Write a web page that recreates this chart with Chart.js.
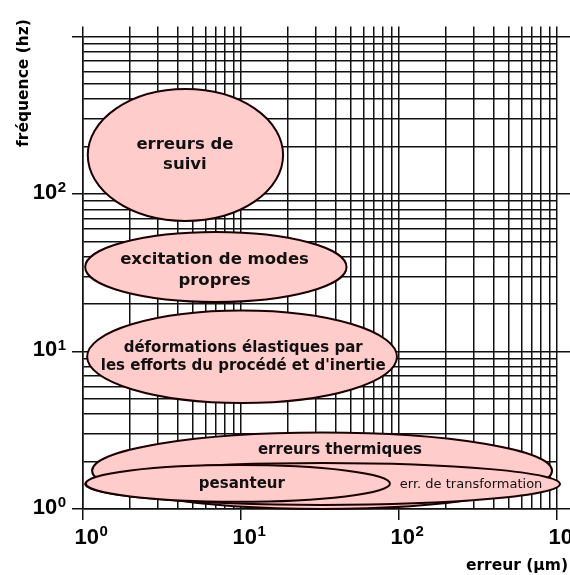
<!DOCTYPE html>
<html>
<head>
<meta charset="utf-8">
<title>fréquence / erreur</title>
<script src="https://cdn.jsdelivr.net/npm/chart.js@4.4.0/dist/chart.umd.min.js"></script>
<style>
  html, body { margin: 0; padding: 0; background: #fff; }
</style>
</head>
<body>
<canvas id="myChart" width="570" height="575"></canvas>
<script>
// zones : étendue en erreur (µm) et en fréquence (Hz)
var zoneLabels = [
  ['erreurs de', 'suivi'],
  ['excitation de modes', 'propres'],
  ['déformations élastiques par', "les efforts du procédé et d'inertie"],
  ['erreurs thermiques'],
  ['err. de transformation'],
  ['pesanteur']
];
var errMin = [1.08, 1.04, 1.07, 1.15, 1.04, 1.05];
var errMax = [18.6, 46.9, 97.8, 937, 1052, 88.3];
var freqMin = [67.4, 20.6, 4.71, 1.0, 1.06, 1.11];
var freqMax = [464, 57.4, 18.2, 3.06, 1.96, 1.90];
// où placer le texte de chaque zone
var labelErr = [4.45, 6.85, 10.4, 42.6, 288, 10.2];
var labelFreq = [177, 32.9, 9.23, 2.37, 1.42, 1.44];

// graduations (grille log) et étiquettes des décades
var gridValues = [1, 2, 3, 4, 5, 6, 7, 8, 9,
  10, 20, 30, 40, 50, 60, 70, 80, 90,
  100, 200, 300, 400, 500, 600, 700, 800, 900, 1000];
var xDecades = [1, 10, 100, 1000];
var xExponents = ['0', '1', '2', '3'];
var yDecades = [1, 10, 100];
var yExponents = ['0', '1', '2'];

// styles du texte des zones
var zoneFontSize = [16.5, 16.5, 15, 15, 13, 15];
var zoneBold = [true, true, true, true, false, true];
var zoneLineGap = [20, 21, 18, 18, 18, 18];

function isDecade(v) {
  return xDecades.indexOf(v) >= 0;
}
function setTicks(scale) {
  scale.ticks = gridValues.map(function (v) { return { value: v, major: isDecade(v) }; });
}
function majorTick(ctx) {
  return (ctx.tick && isDecade(ctx.tick.value)) ? '#111' : 'rgba(0,0,0,0)';
}

var zonesPlugin = {
  id: 'zones',
  afterDatasetsDraw: function (chart) {
    var ctx = chart.ctx;
    var sx = chart.scales.x, sy = chart.scales.y;
    for (var i = 0; i < zoneLabels.length; i++) {
      var x1 = sx.getPixelForValue(errMin[i]), x2 = sx.getPixelForValue(errMax[i]);
      var y1 = sy.getPixelForValue(freqMax[i]), y2 = sy.getPixelForValue(freqMin[i]);
      ctx.save();
      ctx.beginPath();
      ctx.ellipse((x1 + x2) / 2, (y1 + y2) / 2, (x2 - x1) / 2, (y2 - y1) / 2, 0, 0, 2 * Math.PI);
      ctx.fillStyle = '#ffcccc';
      ctx.fill();
      ctx.lineWidth = 2;
      ctx.strokeStyle = '#1a0000';
      ctx.stroke();

      var lines = zoneLabels[i];
      var tx = sx.getPixelForValue(labelErr[i]);
      var ty = sy.getPixelForValue(labelFreq[i]);
      ctx.font = (zoneBold[i] ? 'bold ' : '') + zoneFontSize[i] + 'px "DejaVu Sans"';
      ctx.fillStyle = '#111';
      ctx.textAlign = 'center';
      ctx.textBaseline = 'middle';
      for (var j = 0; j < lines.length; j++) {
        ctx.fillText(lines[j], tx, ty + (j - (lines.length - 1) / 2) * zoneLineGap[i]);
      }
      ctx.restore();
    }
  }
};

// étiquettes 10^n avec exposant, placées sur les graduations des échelles
var decadeLabelsPlugin = {
  id: 'decadeLabels',
  afterDraw: function (chart) {
    var ctx = chart.ctx;
    var sx = chart.scales.x, sy = chart.scales.y;
    var base = 'bold 22px "Liberation Sans"', sup = 'bold 15px "Liberation Sans"';
    ctx.save();
    ctx.fillStyle = '#000';
    ctx.textBaseline = 'alphabetic';
    ctx.textAlign = 'left';
    var i, p, w;
    for (i = 0; i < xDecades.length; i++) {
      p = sx.getPixelForValue(xDecades[i]) - 8;
      ctx.font = base;
      w = ctx.measureText('10').width;
      ctx.fillText('10', p, sy.bottom + 34.5);
      ctx.font = sup;
      ctx.fillText(xExponents[i], p + w + 0.5, sy.bottom + 27);
    }
    for (i = 0; i < yDecades.length; i++) {
      p = sy.getPixelForValue(yDecades[i]);
      ctx.font = sup;
      w = ctx.measureText(yExponents[i]).width;
      var right = sx.left - 16.5;
      ctx.fillText(yExponents[i], right - w, p - 2);
      ctx.font = base;
      ctx.fillText('10', right - w - 0.5 - ctx.measureText('10').width, p + 4.5);
    }
    ctx.restore();
  }
};

var axisTitles = {
  id: 'axisTitles',
  afterDraw: function (chart) {
    var ctx = chart.ctx;
    ctx.save();
    ctx.fillStyle = '#000';
    ctx.textBaseline = 'middle';
    ctx.textAlign = 'right';
    ctx.font = 'bold 15.5px "DejaVu Sans"';
    ctx.fillText('erreur (µm)', 568, 566);
    ctx.translate(24, 83);
    ctx.rotate(-Math.PI / 2);
    ctx.textAlign = 'center';
    ctx.fillText('fréquence (hz)', 0, 0);
    ctx.restore();
  }
};

var myChart = new Chart(document.getElementById('myChart').getContext('2d'), {
  type: 'scatter',
  data: { datasets: [] },
  options: {
    responsive: false,
    animation: false,
    layout: { padding: 0 },
    plugins: {
      legend: { display: false },
      tooltip: { enabled: false }
    },
    scales: {
      x: {
        type: 'logarithmic', position: 'bottom', min: 1, max: 1000,
        afterBuildTicks: setTicks,
        afterFit: function (s) { s.height = 66; },
        grid: { color: '#111', lineWidth: 1.5, tickLength: 11, tickColor: majorTick },
        border: { color: '#111', width: 1.5 },
        ticks: { display: false, autoSkip: false }
      },
      xTop: {
        type: 'logarithmic', position: 'top', min: 1, max: 1000,
        afterBuildTicks: setTicks,
        afterFit: function (s) { s.height = 36.5; },
        grid: { drawOnChartArea: false, color: '#111', lineWidth: 1.5, tickLength: 10 },
        border: { display: false },
        ticks: { display: false, autoSkip: false }
      },
      y: {
        type: 'logarithmic', position: 'left', min: 1, max: 1000,
        afterBuildTicks: setTicks,
        afterFit: function (s) { s.width = 82.5; },
        grid: { color: '#111', lineWidth: 1.5, tickLength: 10.5, tickColor: majorTick },
        border: { color: '#111', width: 1.5 },
        ticks: { display: false, autoSkip: false }
      },
      yRight: {
        type: 'logarithmic', position: 'right', min: 1, max: 1000,
        afterBuildTicks: setTicks,
        afterFit: function (s) { s.width = 13.5; },
        grid: { drawOnChartArea: false, color: '#111', lineWidth: 1.5, tickLength: 14, tickColor: majorTick },
        border: { display: false },
        ticks: { display: false, autoSkip: false }
      }
    }
  },
  plugins: [zonesPlugin, decadeLabelsPlugin, axisTitles]
});
</script>
</body>
</html>
